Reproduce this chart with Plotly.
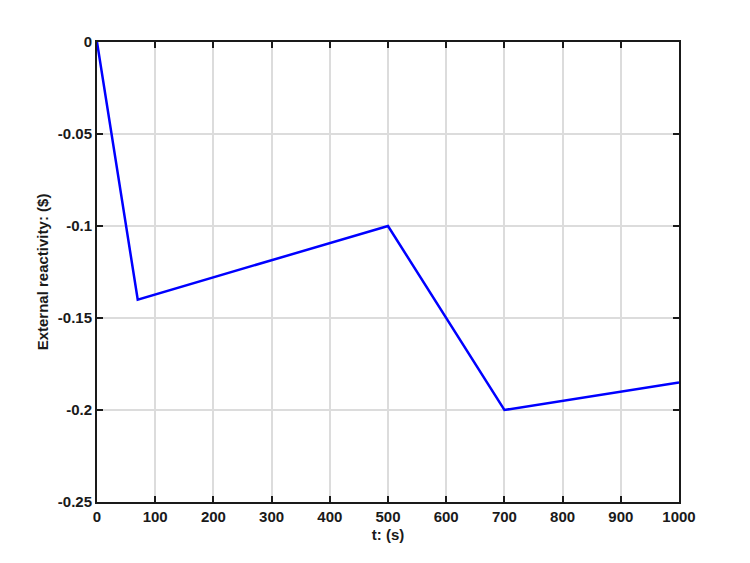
import plotly.graph_objects as go

t_values = [0, 70, 500, 700, 1000]
reactivity = [0, -0.14, -0.1, -0.2, -0.185]
x_ticks = [0, 100, 200, 300, 400, 500, 600, 700, 800, 900, 1000]
y_ticks = [0, -0.05, -0.1, -0.15, -0.2, -0.25]
y_tick_labels = ["0", "-0.05", "-0.1", "-0.15", "-0.2", "-0.25"]

FAM = "Arial, Liberation Sans, sans-serif"
fig = go.Figure()
fig.add_trace(go.Scatter(x=t_values, y=reactivity, mode="lines",
                         line=dict(color="#0000ff", width=2.5), showlegend=False))

axis_common = dict(showgrid=True, gridcolor="#dcdcdc", gridwidth=1.5,
                   showline=True, linecolor="#1a1a1a", linewidth=2,
                   mirror="ticks", ticks="inside", ticklen=6, tickwidth=2,
                   tickcolor="#1a1a1a", zeroline=False,
                   tickfont=dict(family=FAM, size=15, color="#1a1a1a", weight="bold"))

fig.update_xaxes(range=[0, 1000], tickvals=x_ticks,
                 title=dict(text="t: (s)", font=dict(size=15, family=FAM, color="#1a1a1a", weight="bold"), standoff=5),
                 **axis_common)
fig.update_yaxes(range=[-0.25, 0], tickvals=y_ticks, ticktext=y_tick_labels,
                 title=dict(text="External reactivity: ($)", font=dict(size=15, family=FAM, color="#1a1a1a", weight="bold"), standoff=6),
                 **axis_common)

fig.update_layout(width=750, height=563, margin=dict(l=89, r=79, t=34, b=69),
                  plot_bgcolor="white", paper_bgcolor="white",
                  font=dict(family=FAM, size=15, color="#1a1a1a"))

fig.write_html("out.html")
